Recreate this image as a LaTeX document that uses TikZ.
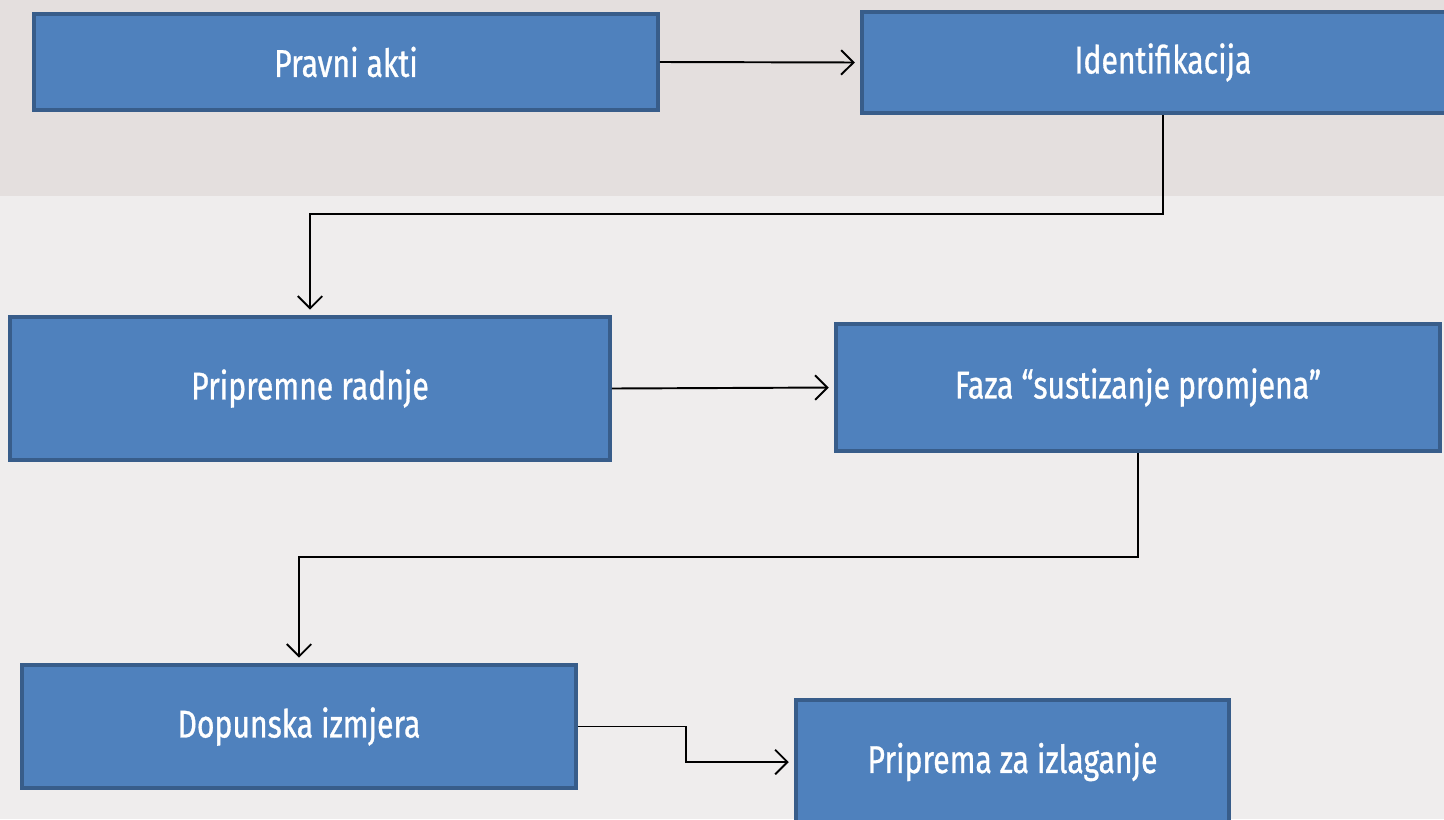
\documentclass[tikz,border=0pt]{standalone}
\usepackage{fontspec}
\usetikzlibrary{arrows.meta}
\newfontfamily\boxfont[FakeStretch=0.78, FakeBold=0.8]{Fira Sans}

\definecolor{boxfill}{RGB}{79,129,189}
\definecolor{boxline}{RGB}{56,93,138}
\definecolor{bgtop}{RGB}{228,223,222}
\definecolor{bgbottom}{RGB}{239,237,237}

\begin{document}
\begin{tikzpicture}[x=0.02cm, y=-0.02cm]

% styles
\tikzset{
  stepbox/.style={rectangle, fill=boxfill, draw=boxline, line width=2.3pt,
    inner sep=0pt, text=white, font=\boxfont\fontsize{22}{26}\selectfont},
  conn/.style={line width=1.1pt, shorten >=3pt, -{Straight Barb[length=7pt, width=14pt]}}
}

% ===== background =====
\useasboundingbox (0,0) rectangle (1444,819);
\clip (0,0) rectangle (1444,819);
\fill[bgtop] (0,0) rectangle (1444,196);
\fill[bgbottom] (0,196) rectangle (1444,819);

% ===== boxes =====
\node[stepbox, minimum width=12.48cm, minimum height=1.92cm] (pravni) at (346,62) {Pravni akti};
\node[stepbox, minimum width=12.04cm, minimum height=2.02cm] (identif) at (1163,62.5) {Identifikacija};
\node[stepbox, minimum width=12.0cm, minimum height=2.86cm] (pripremne) at (310,388.5) {Pripremne radnje};
\node[stepbox, minimum width=12.08cm, minimum height=2.54cm] (faza) at (1138,387.5) {Faza “sustizanje promjena”};
\node[stepbox, minimum width=11.08cm, minimum height=2.46cm] (dopunska) at (299,726.5) {Dopunska izmjera};
\node[stepbox, minimum width=8.66cm, minimum height=2.48cm] (priprema) at (1012.5,762) {Priprema za izlaganje};

% ===== connectors =====
\coordinate (bend1) at (700,214);
\coordinate (bend2) at (700,557);
\coordinate (bend3) at (686,740);

\draw[conn] (pravni.east) -- (identif.west);
\draw[conn] (identif.south) |- (bend1) -| (pripremne.north);
\draw[conn] (pripremne.east) -- (faza.west);
\draw[conn] (faza.south) |- (bend2) -| (dopunska.north);
\draw[conn] (dopunska.east) -| (bend3) |- (priprema.west);

\end{tikzpicture}
\end{document}
